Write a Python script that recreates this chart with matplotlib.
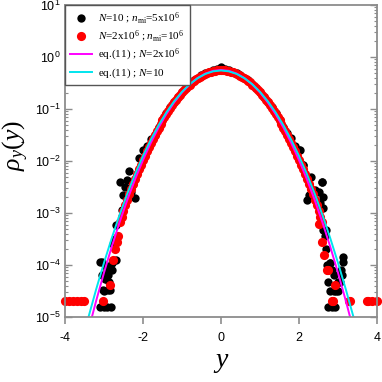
import numpy as np
import matplotlib
matplotlib.use("Agg")
import matplotlib.pyplot as plt
from matplotlib.ticker import LogLocator, FixedLocator, FuncFormatter, NullFormatter

plt.rcParams['mathtext.fontset'] = 'custom'
plt.rcParams['mathtext.rm'] = 'Liberation Serif'
plt.rcParams['mathtext.it'] = 'Liberation Serif:italic'
plt.rcParams['mathtext.sf'] = 'Liberation Sans'
plt.rcParams['axes.unicode_minus'] = False

# ---------------- data (log10 of rho) ----------------
grid_x = [round(-3.0 + 0.1 * i, 1) for i in range(61)]

# N=10 ; n_mi = 5x10^6 (black), values on grid_x
black_log = [-4.50, -4.20, -3.97, -3.23, -2.40, -2.65, -2.37, -2.60, -2.71, -1.95,
             -1.79, -1.72, -1.58, -1.50, -1.35, -1.22, -1.08, -0.97, -0.86, -0.76,
             -0.67, -0.59, -0.52, -0.45, -0.40, -0.35, -0.31, -0.28, -0.25, -0.23,
             -0.20,
             -0.23, -0.25, -0.28, -0.31, -0.35, -0.40, -0.45, -0.52, -0.59, -0.67,
             -0.76, -0.86, -0.97, -1.08, -1.21, -1.34, -1.47, -1.55, -1.72, -1.79,
             -2.08, -2.75, -2.30, -2.55, -2.60, -2.40, -3.33, -3.97, -4.49, -4.32]
# extra black tail points
black_tail_x = [-2.55, -2.45, -2.35, -2.25, -2.72, -2.76, -2.68, -2.93, -2.97, -3.10,
                -3.05, -3.02, -2.90, -2.85, -3.10, -3.00, -2.92, -2.83, -3.05, -2.88,
                -2.95, -2.80,
                2.03, 2.11, 2.58, 2.62, 2.62, 2.25, 2.55, 2.62, 2.66, 3.14,
                3.12, 2.80, 2.84, 2.75, 3.05, 2.80, 2.95, 3.00, 2.75, 2.84,
                2.92, 3.08, 3.10, 2.90, 2.70, 2.72]
black_tail_log = [-2.94, -2.50, -2.20, -2.45, -3.50, -3.60, -3.90, -4.10, -4.26, -3.94,
                  -3.94, -4.48, -4.48, -4.48, -4.80, -4.80, -4.80, -4.80, -4.20, -4.32,
                  -4.02, -4.10,
                  -1.79, -2.08, -2.40, -2.69, -2.91, -2.65, -2.80, -3.33, -3.45, -3.84,
                  -3.95, -3.97, -4.10, -4.32, -4.32, -4.49, -4.49, -4.50, -4.81, -4.81,
                  -4.81, -4.10, -4.20, -4.20, -3.70, -4.00]

# N=2x10^6 ; n_mi = 10^6 (red)
red_x = [round(-2.6 + 0.1 * i, 1) for i in range(53)]
red_log = [-3.18, -2.96, -2.75, -2.54, -2.35, -2.16, -1.98, -1.81, -1.65, -1.50,
           -1.36, -1.22, -1.10, -0.98, -0.87, -0.77, -0.68, -0.60, -0.53, -0.46,
           -0.41, -0.36, -0.32, -0.29, -0.27, -0.25, -0.25,
           -0.25, -0.27, -0.29, -0.32, -0.36, -0.41, -0.46, -0.53, -0.60, -0.68,
           -0.77, -0.87, -0.98, -1.10, -1.22, -1.36, -1.50, -1.65, -1.81, -1.98,
           -2.16, -2.35, -2.54, -2.75, -2.96, -3.18]
red_half_x = [-2.55, -2.45, -2.35, -2.25, -2.15, -2.05, -1.95, -1.85, -1.75, -1.65,
              -1.55, -1.45, -1.35, -1.25, -1.15, -1.05, -0.95, -0.85, -0.75, -0.65,
              -0.55, -0.45, -0.35, -0.25, -0.15, -0.05,
              0.05, 0.15, 0.25, 0.35, 0.45, 0.55, 0.65, 0.75, 0.85, 0.95,
              1.05, 1.15, 1.25, 1.35, 1.45, 1.55, 1.65, 1.75, 1.85, 1.95,
              2.05, 2.15, 2.25, 2.35, 2.45, 2.55]
red_half_log = [-3.07, -2.85, -2.64, -2.44, -2.25, -2.07, -1.90, -1.73, -1.58, -1.43,
                -1.29, -1.16, -1.04, -0.93, -0.82, -0.73, -0.64, -0.56, -0.49, -0.43,
                -0.38, -0.34, -0.30, -0.28, -0.26, -0.25,
                -0.25, -0.26, -0.28, -0.30, -0.34, -0.38, -0.43, -0.49, -0.56, -0.64,
                -0.73, -0.82, -0.93, -1.04, -1.16, -1.29, -1.43, -1.58, -1.73, -1.90,
                -2.07, -2.25, -2.44, -2.64, -2.85, -3.07]
red_tail_x = [-2.63, -2.67, -2.72, -2.78, -2.85, -3.02, -4.00, -3.90, -3.80, -3.70,
              -3.60, -3.50,
              2.50, 2.58, 2.65, 2.71, 2.75, 2.92, 2.84, 2.86, 3.27, 3.31, 3.73,
              3.78, 3.86, 4.00]
red_tail_log = [-3.45, -3.55, -3.70, -3.90, -4.38, -4.69, -4.69, -4.69, -4.69, -4.69,
                -4.69, -4.69,
                -3.21, -3.55, -3.81, -4.10, -4.10, -4.38, -4.69, -4.69, -4.69, -4.69,
                -4.69, -4.69, -4.69, -4.69]

# eq.(11) curves
curve_y = [-3.6, -3.4, -3.2, -3.0, -2.8, -2.6, -2.4, -2.2, -2.0, -1.8, -1.6, -1.4, -1.2,
           -1.0, -0.8, -0.6, -0.4, -0.2, 0.0, 0.2, 0.4, 0.6, 0.8, 1.0, 1.2, 1.4, 1.6,
           1.8, 2.0, 2.2, 2.4, 2.6, 2.8, 3.0, 3.2, 3.4, 3.6]
magenta_rho = [1.3e-6, 5.49e-6, 2.05e-5, 7.08e-5, 2.26e-4, 6.63e-4, 1.80e-3, 4.50e-3,
               1.04e-2, 2.22e-2, 4.38e-2, 7.97e-2, 0.1339, 0.2077, 0.2975, 0.3934,
               0.4803, 0.5415, 0.5635, 0.5415, 0.4803, 0.3934, 0.2975, 0.2077, 0.1339,
               7.97e-2, 4.38e-2, 2.22e-2, 1.04e-2, 4.50e-3, 1.80e-3, 6.63e-4, 2.26e-4,
               7.08e-5, 2.05e-5, 5.49e-6, 1.3e-6]
cyan_rho = [2.6e-6, 9.8e-6, 3.41e-5, 1.10e-4, 3.30e-4, 9.19e-4, 2.37e-3, 5.65e-3,
            1.25e-2, 2.56e-2, 4.88e-2, 8.61e-2, 0.1409, 0.2136, 0.3002, 0.3913,
            0.4727, 0.5296, 0.5500, 0.5296, 0.4727, 0.3913, 0.3002, 0.2136, 0.1409,
            8.61e-2, 4.88e-2, 2.56e-2, 1.25e-2, 5.65e-3, 2.37e-3, 9.19e-4, 3.30e-4,
            1.10e-4, 3.41e-5, 9.8e-6, 2.6e-6]

x_ticks = [-4, -2, 0, 2, 4]
y_decades = [1e-5, 1e-4, 1e-3, 1e-2, 1e-1, 1e0, 1e1]

# ---------------- plot ----------------
fig = plt.figure(figsize=(3.82, 3.82), dpi=100)
ax = fig.add_axes([0.170, 0.170, 0.817, 0.817])

bx = list(grid_x) + black_tail_x
by = [10 ** v for v in (black_log + black_tail_log)]
ax.plot(bx, by, 'o', color='black', ms=6.0, mec='none', clip_on=False,
        label=r'$N$=10 ; $n_{\rm mi}$=5x10$^{6}$')
rx = red_x + red_half_x + red_tail_x
ry = [10 ** v for v in (red_log + red_half_log + red_tail_log)]
ax.plot(rx, ry, 'o', color='red', ms=6.6, mec='none', clip_on=False,
        label=r'$N$=2x10$^{6}$ ; $n_{\rm mi}$=10$^{6}$')
ax.plot(curve_y, magenta_rho, '-', color='#ff00ff', lw=1.4,
        label=r'eq.(11) ; $N$=2x10$^{6}$')
ax.plot(curve_y, cyan_rho, '-', color='#00e5ee', lw=1.4,
        label=r'eq.(11) ; $N$=10')

ax.set_yscale('log')
ax.set_xlim(-4, 4)
ax.set_ylim(1e-5, 1e1)

ax.xaxis.set_major_locator(FixedLocator(x_ticks))
ax.set_xticklabels([str(t) for t in x_ticks], family='Liberation Sans', fontsize=9)
ax.yaxis.set_major_locator(FixedLocator(y_decades))
ax.yaxis.set_minor_locator(LogLocator(base=10, subs=np.arange(2, 10)))
ax.yaxis.set_minor_formatter(NullFormatter())
ax.yaxis.set_major_formatter(FuncFormatter(
    lambda v, p: r'$\mathsf{10^{%d}}$' % int(round(np.log10(v)))))

for sp in ax.spines.values():
    sp.set_color('#8c8c8c')
    sp.set_linewidth(1.3)

ax.tick_params(axis='x', which='major', direction='out', length=5, width=1.2,
               color='#8c8c8c', labelsize=9, pad=6, top=False)
ax.tick_params(axis='y', which='major', direction='in', length=5, width=1.0,
               color='#8c8c8c', labelsize=9, left=True, right=True, pad=3)
ax.tick_params(axis='y', which='minor', direction='in', length=2.5, width=0.8,
               color='#8c8c8c', left=True, right=True)

ax.set_xlabel(r'$y$', fontsize=20, labelpad=2)
ax.set_ylabel(r'$\rho_y(y)$', fontsize=18.5)
ax.yaxis.set_label_coords(-0.11, 0.55)

leg = ax.legend(loc='upper left', bbox_to_anchor=(0.0, 1.0), frameon=True,
                fancybox=False, edgecolor='#555555', framealpha=1,
                prop={'family': 'Liberation Serif', 'size': 8},
                handlelength=1.9, handletextpad=0.6, borderpad=0.5,
                labelspacing=0.25, borderaxespad=0.0, markerscale=1.0)
leg.get_frame().set_linewidth(1.0)

fig.savefig('out.png', dpi=100)
